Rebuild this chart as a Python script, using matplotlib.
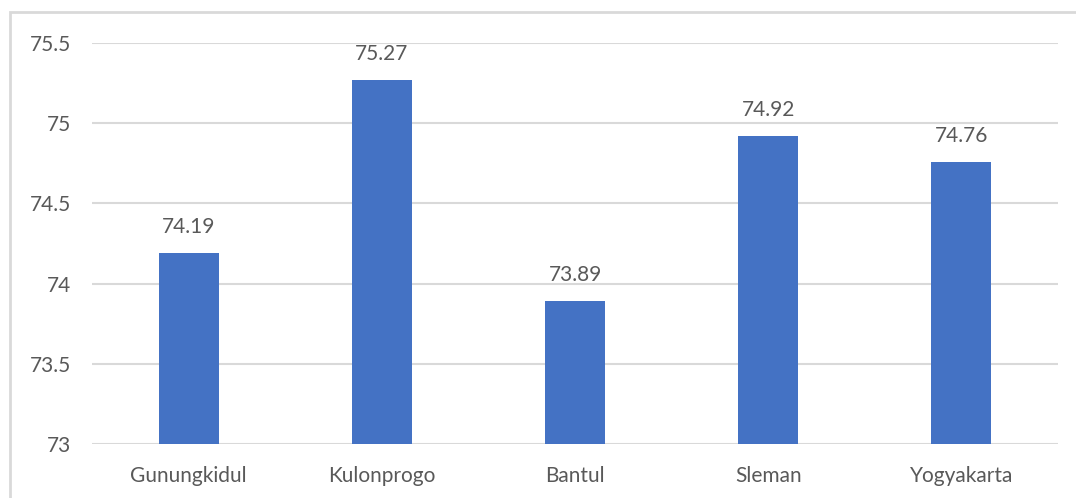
import matplotlib.pyplot as plt
from matplotlib.patches import Rectangle

regions = ["Gunungkidul", "Kulonprogo", "Bantul", "Sleman", "Yogyakarta"]
values = [74.19, 75.27, 73.89, 74.92, 74.76]
yticks = [73, 73.5, 74, 74.5, 75, 75.5]

plt.rcParams['font.family'] = ['Lato', 'DejaVu Sans']
text_col = '#595959'
grid_col = '#D9D9D9'

fig = plt.figure(figsize=(10.76, 4.98), dpi=100)
ax = fig.add_axes([0.0855, 0.1084, 0.8978, 0.8053])

# chart frame, running off the right and bottom edges
fig.patches.append(Rectangle((10 / 1076, -0.05), 1.1, 1 - 12 / 498 + 0.05,
                             transform=fig.transFigure, fill=False,
                             edgecolor='#D9D9D9', linewidth=2))

x = range(len(regions))
bars = ax.bar(x, [v - yticks[0] for v in values], bottom=yticks[0],
              width=0.31, color='#4472C4', zorder=3)

for xi, v in zip(x, values):
    ax.text(xi, v + 0.1, f"{v:.2f}", ha='center', va='bottom',
            fontsize=15, color=text_col)

ax.set_xlim(-0.5, len(regions) - 0.5)
ax.set_ylim(yticks[0], yticks[-1])
ax.set_yticks(yticks)
ax.set_yticklabels([f"{t:g}" for t in yticks])
ax.set_xticks(list(x))
ax.set_xticklabels(regions)
ax.tick_params(axis='both', length=0, labelsize=15, labelcolor=text_col)
ax.tick_params(axis='y', pad=15)
ax.tick_params(axis='x', pad=16)
ax.grid(axis='y', color=grid_col, linewidth=1.5, zorder=0)
for s in ax.spines.values():
    s.set_visible(False)

fig.savefig('out.png', dpi=100)
